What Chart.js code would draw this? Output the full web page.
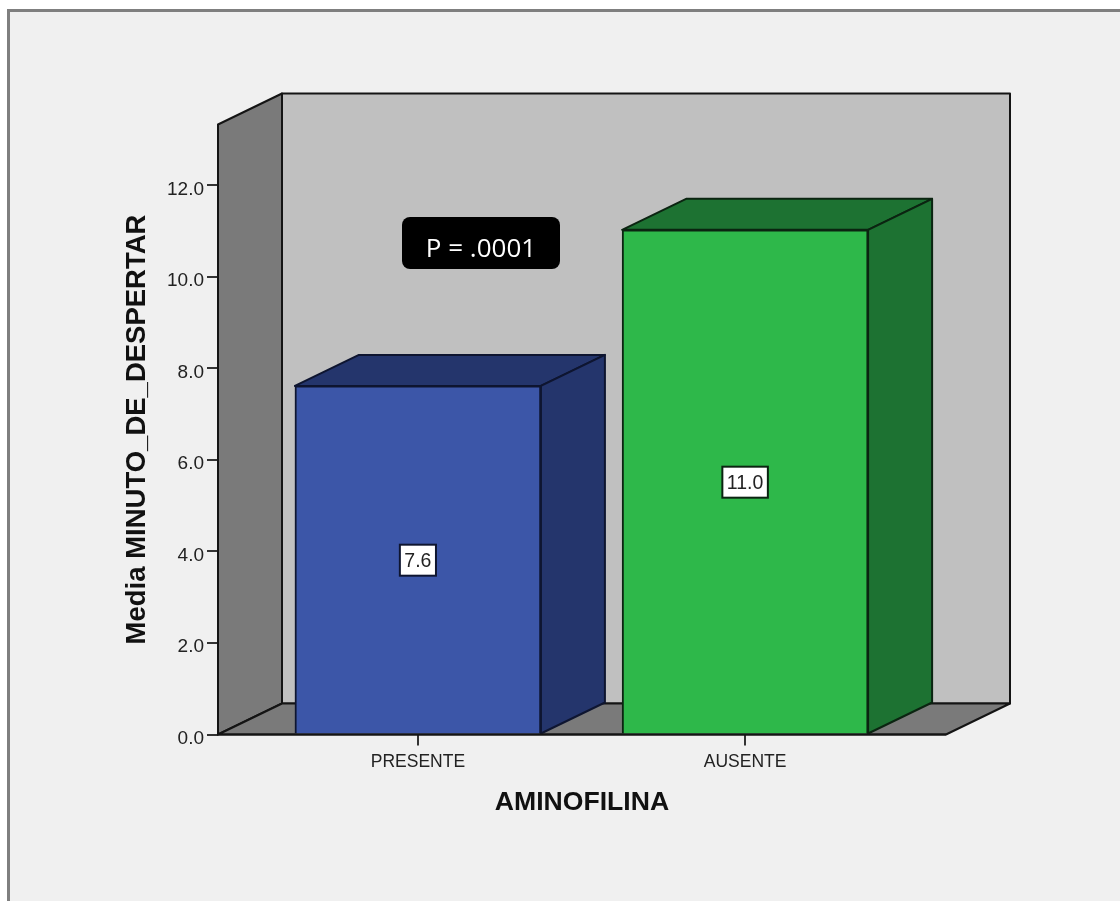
<!DOCTYPE html>
<html>
<head>
<meta charset="utf-8">
<style>
html,body{margin:0;padding:0;background:#fff;width:1120px;height:901px;overflow:hidden}
#frame{position:absolute;left:7px;top:9px;right:0;bottom:0;background:#f0f0f0;border-left:3px solid #7f7f7f;border-top:3px solid #7f7f7f}
canvas{position:absolute;left:0;top:0;filter:blur(0.4px)}
</style>
<script src="https://cdn.jsdelivr.net/npm/chart.js@4/dist/chart.umd.min.js"></script>
</head>
<body>
<div id="frame"></div>
<canvas id="c" width="1120" height="901"></canvas>
<script>
const categories = ['PRESENTE', 'AUSENTE'];
const values = [7.62, 11.03];
const yTicks = [0, 2, 4, 6, 8, 10, 12];
const frontColors = ['#3c56a8', '#2eb84a'];
const darkColors = ['#24356c', '#1d7232'];
const edgeColors = ['#0e1530', '#0b2411'];
const yTitle = 'Media MINUTO_DE_DESPERTAR';
const xTitle = 'AMINOFILINA';
const note = 'P = .0001';

const DX = 64, DY = 31;
const LINE = '#141414';
const FONT = '"Liberation Sans", Arial, sans-serif';

function poly(ctx, pts, fill, stroke, width) {
  ctx.beginPath();
  pts.forEach((p, i) => i ? ctx.lineTo(p[0], p[1]) : ctx.moveTo(p[0], p[1]));
  ctx.closePath();
  ctx.lineJoin = 'round';
  ctx.fillStyle = fill;
  ctx.fill();
  ctx.strokeStyle = stroke;
  ctx.lineWidth = width;
  ctx.stroke();
}

const box3d = {
  id: 'box3d',
  beforeDraw(chart) {
    chart.scales.y.getLabelItems().forEach(it => { it.options.translation[1] += 4; });
  },
  beforeDatasetsDraw(chart) {
    const {ctx, chartArea: a} = chart;
    ctx.save();
    poly(ctx, [[a.left + DX, a.top - DY], [a.right + DX, a.top - DY], [a.right + DX, a.bottom - DY], [a.left + DX, a.bottom - DY]], '#c0c0c0', LINE, 2);
    poly(ctx, [[a.left, a.top], [a.left + DX, a.top - DY], [a.left + DX, a.bottom - DY], [a.left, a.bottom]], '#7a7a7a', LINE, 2);
    poly(ctx, [[a.left, a.bottom], [a.left + DX, a.bottom - DY], [a.right + DX, a.bottom - DY], [a.right, a.bottom]], '#7a7a7a', LINE, 2);
    chart.getDatasetMeta(0).data.forEach((bar, i) => {
      const p = bar.getProps(['x', 'y', 'base', 'width'], true);
      const l = p.x - p.width / 2, r = p.x + p.width / 2;
      poly(ctx, [[l, p.y], [l + DX, p.y - DY], [r + DX, p.y - DY], [r, p.y]], darkColors[i], edgeColors[i], 2);
      poly(ctx, [[r, p.y], [r + DX, p.y - DY], [r + DX, p.base - DY], [r, p.base]], darkColors[i], edgeColors[i], 2);
    });
    ctx.restore();
  },
  afterDatasetsDraw(chart) {
    const {ctx, chartArea: a} = chart;
    ctx.save();
    ctx.strokeStyle = LINE;
    ctx.lineWidth = 2;
    ctx.beginPath();
    ctx.moveTo(a.left, a.bottom);
    ctx.lineTo(a.right, a.bottom);
    ctx.stroke();
    ctx.textAlign = 'center';
    ctx.textBaseline = 'middle';
    ctx.font = '19.5px ' + FONT;
    chart.getDatasetMeta(0).data.forEach((bar, i) => {
      const p = bar.getCenterPoint(true);
      const txt = values[i].toFixed(1);
      const w = ctx.measureText(txt).width + 9;
      ctx.fillStyle = '#fff';
      ctx.strokeStyle = edgeColors[i];
      ctx.lineWidth = 2;
      ctx.fillRect(p.x - w / 2, p.y - 15, w, 31);
      ctx.strokeRect(p.x - w / 2, p.y - 15, w, 31);
      ctx.fillStyle = '#222';
      ctx.fillText(txt, p.x, p.y + 2);
    });
    ctx.beginPath();
    ctx.roundRect(402, 217, 158, 52, 8);
    ctx.fillStyle = '#000';
    ctx.fill();
    ctx.fillStyle = '#fff';
    ctx.font = '26px "Open Sans", sans-serif';
    ctx.fillText(note, 481, 250);
    ctx.restore();
  }
};

new Chart(document.getElementById('c'), {
  type: 'bar',
  data: {
    datasets: [{
      data: values.map((v, i) => ({x: i + 1, y: v})),
      backgroundColor: frontColors,
      borderColor: edgeColors,
      borderWidth: 2,
      barThickness: 246
    }]
  },
  plugins: [box3d],
  options: {
    responsive: false,
    animation: false,
    events: [],
    layout: {autoPadding: false, padding: {left: 0, right: 174, top: 124.5, bottom: 0}},
    plugins: {legend: {display: false}, tooltip: {enabled: false}},
    scales: {
      x: {
        type: 'linear',
        offset: false,
        min: 0.389,
        max: 2.614,
        afterFit(s) { s.height = 166.5; },
        afterBuildTicks(s) { s.ticks = categories.map((_, i) => ({value: i + 1})); },
        grid: {offset: false, drawOnChartArea: false, tickLength: 11, color: '#333', lineWidth: 2},
        border: {display: false},
        ticks: {
          autoSkip: false, maxRotation: 0, padding: 6,
          color: '#222',
          font: {family: FONT, size: 17.5},
          callback: v => categories[v - 1]
        },
        title: {display: true, text: xTitle, color: '#111', font: {family: FONT, size: 26.6, weight: 'bold'}, padding: {top: 0, bottom: 82}}
      },
      y: {
        min: 0,
        max: 13.333,
        afterFit(s) { s.width = 218; },
        afterBuildTicks(s) { s.ticks = yTicks.map(v => ({value: v})); },
        grid: {drawOnChartArea: false, tickLength: 11, color: '#333', lineWidth: 2},
        border: {display: false},
        ticks: {
          padding: 3, color: '#222',
          font: {family: FONT, size: 19},
          callback: v => v.toFixed(1)
        },
        title: {display: true, text: yTitle, color: '#111', font: {family: FONT, size: 27.5, weight: 'bold'}, padding: {top: 121, bottom: 0}}
      }
    }
  }
});
</script>
</body>
</html>
